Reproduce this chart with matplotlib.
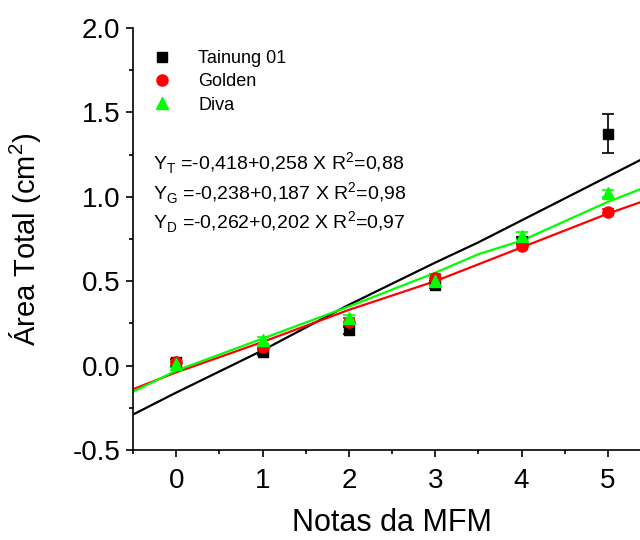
import matplotlib
matplotlib.use("Agg")
import matplotlib.pyplot as plt
from matplotlib.ticker import MultipleLocator, FormatStrFormatter
from matplotlib.lines import Line2D

plt.rcParams['font.family'] = ['Liberation Sans', 'DejaVu Sans']
plt.rcParams['mathtext.fontset'] = 'custom'
plt.rcParams['mathtext.rm'] = 'Liberation Sans'
plt.rcParams['axes.unicode_minus'] = False

# ---- data ----
notas = [0, 1, 2, 3, 4, 5]
tainung = [0.02, 0.08, 0.21, 0.48, 0.74, 1.375]
tainung_err = [0.02, 0.02, 0.02, 0.02, 0.02, 0.115]
golden = [0.02, 0.11, 0.26, 0.52, 0.71, 0.91]
golden_err = [0.02, 0.02, 0.02, 0.02, 0.02, 0.02]
diva = [0.01, 0.15, 0.28, 0.50, 0.77, 1.02]
diva_err = [0.02, 0.02, 0.02, 0.02, 0.02, 0.02]

fit_x = [-0.5, 0, 1, 2, 3, 3.5, 4, 5, 5.5]
fit_tainung = [-0.29, -0.16, 0.09, 0.36, 0.61, 0.73, 0.86, 1.12, 1.25]
fit_golden = [-0.14, -0.04, 0.14, 0.33, 0.50, 0.60, 0.70, 0.90, 0.99]
fit_diva = [-0.155, -0.03, 0.16, 0.35, 0.55, 0.66, 0.74, 0.97, 1.07]

labels = ['Tainung 01', 'Golden', 'Diva']
equations = [r'Y$_\mathregular{T}$ =-0,418+0,258 X R$^\mathregular{2}$=0,88',
             r'Y$_\mathregular{G}$ =-0,238+0,187 X R$^\mathregular{2}$=0,98',
             r'Y$_\mathregular{D}$ =-0,262+0,202 X R$^\mathregular{2}$=0,97']

fig = plt.figure(figsize=(6.4, 5.4), dpi=100)
W, H = 640, 540
ax = fig.add_axes([133 / W, 90 / H, 518 / W, 422 / H])

eb_kw = dict(capsize=4, elinewidth=1.2, capthick=1.2, linestyle='none')
ax.errorbar(notas, tainung, yerr=tainung_err, fmt='s', color='black', ecolor='black',
            markersize=7, **eb_kw)
ax.errorbar(notas, golden, yerr=golden_err, fmt='o', color='#ff0000', ecolor='#ff0000',
            markersize=8, **eb_kw)
ax.errorbar(notas, diva, yerr=diva_err, fmt='^', color='#00ff00', ecolor='#00ff00',
            markersize=8, **eb_kw)

ax.plot(fit_x, fit_tainung, color='black', lw=1.6)
ax.plot(fit_x, fit_golden, color='#ff0000', lw=1.6)
ax.plot(fit_x, fit_diva, color='#00ff00', lw=1.6)

ax.set_xlim(-0.5, 5.5)
ax.set_ylim(-0.5, 2.0)
ax.spines['top'].set_visible(False)
ax.spines['right'].set_visible(False)
for s in ['left', 'bottom']:
    ax.spines[s].set_linewidth(1.2)

ax.xaxis.set_major_locator(MultipleLocator(1))
ax.xaxis.set_minor_locator(MultipleLocator(0.5))
ax.yaxis.set_major_locator(MultipleLocator(0.5))
ax.yaxis.set_minor_locator(MultipleLocator(0.25))
ax.yaxis.set_major_formatter(FormatStrFormatter('%.1f'))
ax.tick_params(which='major', direction='out', length=5, width=1.2, labelsize=20)
ax.tick_params(which='minor', direction='out', length=3, width=1.2)
ax.tick_params(axis='x', which='major', pad=8)
ax.tick_params(axis='y', which='major', pad=4)

ax.set_xlabel('Notas da MFM', fontsize=22, labelpad=10)
ax.set_ylabel('Área Total (cm$^\\mathregular{2}$)', fontsize=21, labelpad=21)

handles = [Line2D([], [], marker='s', color='black', linestyle='none', markersize=7),
           Line2D([], [], marker='o', color='#ff0000', linestyle='none', markersize=8),
           Line2D([], [], marker='^', color='#00ff00', linestyle='none', markersize=8)]
ax.legend(handles=handles, labels=labels, loc='upper left',
          bbox_to_anchor=(153 / W, 1 - 50 / H), bbox_transform=fig.transFigure,
          frameon=False, fontsize=13, handlelength=1.0, handletextpad=1.5,
          labelspacing=0.35, borderaxespad=0, borderpad=0)

ys = [163, 193, 222]
for eq, y in zip(equations, ys):
    fig.text(153 / W, 1 - y / H, eq, fontsize=14, va='center', ha='left')

fig.savefig('out.png', dpi=100, facecolor='white')
